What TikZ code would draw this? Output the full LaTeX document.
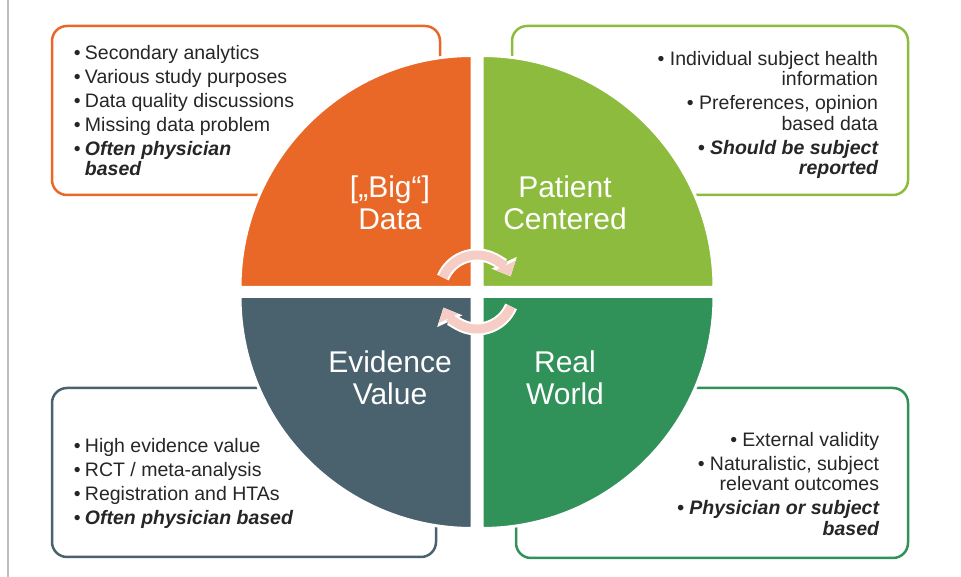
\documentclass[tikz,border=0pt]{standalone}
\usepackage{fontspec}
\setmainfont{Liberation Sans}
\usetikzlibrary{arrows.meta}

\definecolor{bigorange}{RGB}{233,104,40}
\definecolor{patientgreen}{RGB}{141,187,62}
\definecolor{worldgreen}{RGB}{48,145,89}
\definecolor{evidenceslate}{RGB}{74,98,110}
\definecolor{cyclepink}{RGB}{246,205,197}
\definecolor{bullettext}{RGB}{38,38,38}
\definecolor{framegray}{RGB}{190,190,190}

\begin{document}
\begin{tikzpicture}[x=1pt, y=1pt,
		infobox/.style={draw, line width=2.5pt, rounded corners=15pt, fill=white, inner sep=0pt},
		quarter/.style={draw=white, line width=3pt},
		bullets/.style={inner sep=0pt, text=bullettext, font=\fontsize{19.5}{20.5}\selectfont},
		quartertext/.style={text=white, align=center, font=\fontsize{30}{32}\selectfont},
		cyclehalo/.style={draw=white, line width=13pt, -{Triangle[length=15pt, width=27pt]}},
		cyclearrow/.style={draw=cyclepink, line width=9pt, -{Triangle[length=12pt, width=21pt]}}]
	\useasboundingbox (0,0) rectangle (961,577);
	\draw[framegray, line width=2pt] (7.5,0) -- (7.5,577);

	% the four info boxes behind the circle
	\node[infobox, draw=bigorange, minimum width=388pt, minimum height=169pt] (databox) at (246,466.5) {};
	\node[infobox, draw=patientgreen, minimum width=396pt, minimum height=169pt] (patientbox) at (710,466.5) {};
	\node[infobox, draw=evidenceslate, minimum width=384pt, minimum height=169pt] (evidencebox) at (244,104.5) {};
	\node[infobox, draw=worldgreen, minimum width=392pt, minimum height=170pt] (worldbox) at (712,104) {};

	\node[bullets, anchor=north west, align=left] (datatext) at ([xshift=23pt, yshift=-20pt]databox.north west)
		{\makebox[11pt][l]{•}Secondary analytics\\[3.5pt]
		\makebox[11pt][l]{•}Various study purposes\\[3.5pt]
		\makebox[11pt][l]{•}Data quality discussions\\[3.5pt]
		\makebox[11pt][l]{•}Missing data problem\\[3.5pt]
		\makebox[11pt][l]{•}{\bfseries\itshape Often physician}\\
		\hspace*{11pt}{\bfseries\itshape based}};
	\node[bullets, anchor=north east, align=right] (patienttext) at ([xshift=-31pt, yshift=-26pt]patientbox.north east)
		{• Individual subject health\\ information\\[3.5pt]
		• Preferences, opinion\\ based data\\[3.5pt]
		{\bfseries\itshape • Should be subject}\\ {\bfseries\itshape reported}};
	\node[bullets, anchor=north west, align=left] (evidencetext) at ([xshift=23pt, yshift=-51pt]evidencebox.north west)
		{\makebox[11pt][l]{•}High evidence value\\[3.5pt]
		\makebox[11pt][l]{•}RCT / meta-analysis\\[3.5pt]
		\makebox[11pt][l]{•}Registration and HTAs\\[3.5pt]
		\makebox[11pt][l]{•}{\bfseries\itshape Often physician based}};
	\node[bullets, anchor=north east, align=right] (worldtext) at ([xshift=-30pt, yshift=-45pt]worldbox.north east)
		{• External validity\\[3.5pt]
		• Naturalistic, subject\\ relevant outcomes\\[3.5pt]
		{\bfseries\itshape • Physician or subject}\\ {\bfseries\itshape based}};

	% quarters of the circle
	\coordinate (dq) at (472,289.5);
	\coordinate (pq) at (482,289.5);
	\coordinate (eq) at (472,280.5);
	\coordinate (wq) at (482,280.5);
	\filldraw[quarter, fill=bigorange] (dq) -- ++(-232,0) arc[start angle=180, end angle=90, radius=232pt] -- cycle;
	\filldraw[quarter, fill=patientgreen] (pq) -- ++(0,232) arc[start angle=90, end angle=0, radius=232pt] -- cycle;
	\filldraw[quarter, fill=evidenceslate] (eq) -- ++(-232,0) arc[start angle=180, end angle=270, radius=232pt] -- cycle;
	\filldraw[quarter, fill=worldgreen] (wq) -- ++(0,-232) arc[start angle=270, end angle=360, radius=232pt] -- cycle;

	\node[quartertext] (bigdata) at (390,374) {[„Big“]\\Data};
	\node[quartertext] (patient) at (565,374) {Patient\\Centered};
	\node[quartertext] (evidence) at (390,199.5) {Evidence\\Value};
	\node[quartertext] (realworld) at (565,199.5) {Real\\World};

	% cycle arrows in the middle
	\coordinate (hub) at (477,285);
	\draw[cyclehalo] ([shift={(157:37pt)}]hub) arc[start angle=157, end angle=25, radius=37pt];
	\draw[cyclearrow] ([shift={(157:37pt)}]hub) arc[start angle=157, end angle=25, radius=37pt];
	\draw[cyclehalo] ([shift={(-23:37pt)}]hub) arc[start angle=-23, end angle=-155, radius=37pt];
	\draw[cyclearrow] ([shift={(-23:37pt)}]hub) arc[start angle=-23, end angle=-155, radius=37pt];

\end{tikzpicture}
\end{document}
